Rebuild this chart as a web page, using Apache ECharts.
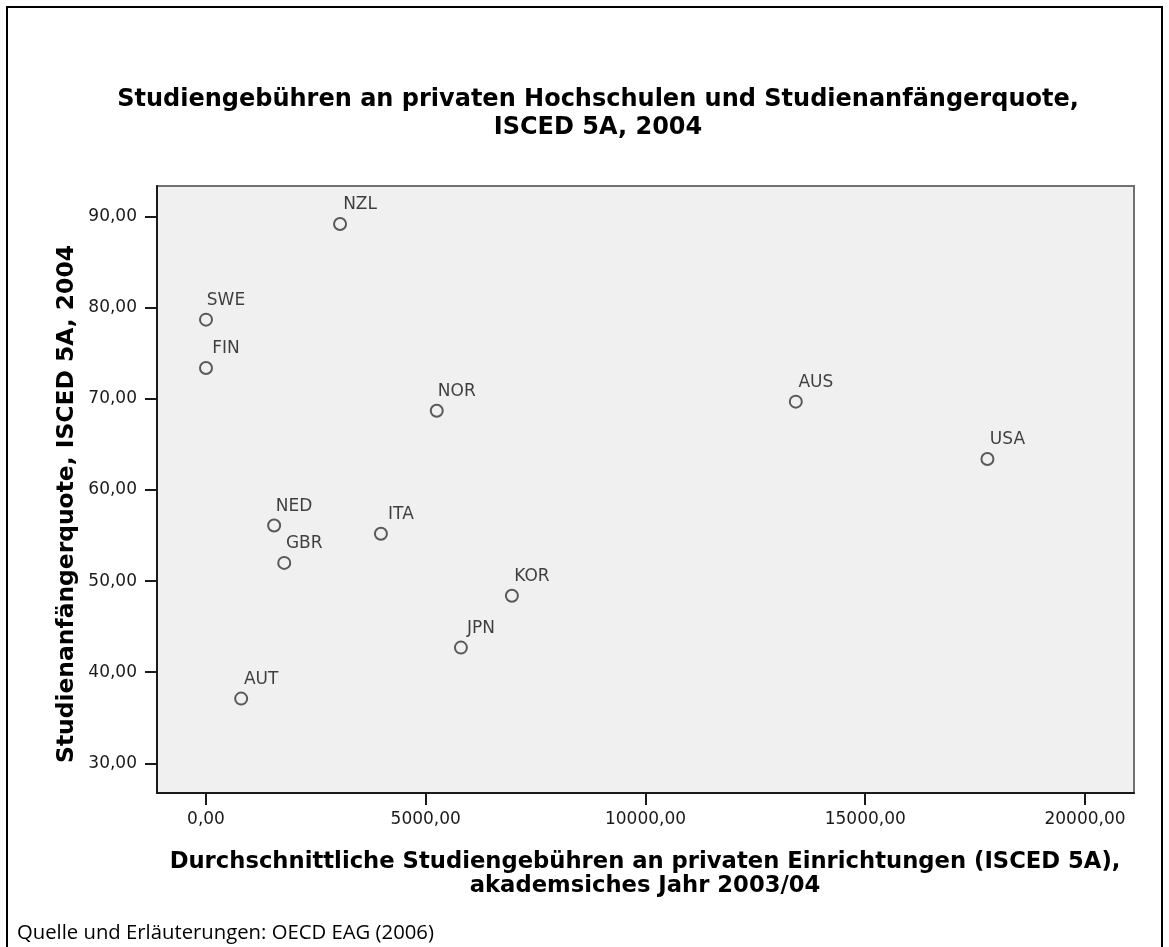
<!DOCTYPE html>
<html>
<head>
<meta charset="utf-8">
<script src="https://cdn.jsdelivr.net/npm/echarts@6/dist/echarts.min.js"></script>
<style>
html,body{margin:0;padding:0;background:#fff;}
#c{width:1169px;height:947px;}
</style>
</head>
<body>
<div id="c"></div>
<script>
const countries = ['NZL','SWE','FIN','NOR','AUS','USA','NED','ITA','GBR','KOR','JPN','AUT'];
const fees = [3050, 0, 0, 5250, 13420, 17780, 1550, 3980, 1780, 6960, 5800, 800];
const rates = [89.2, 78.7, 73.4, 68.7, 69.7, 63.4, 56.1, 55.2, 52.0, 48.4, 42.7, 37.1];
const xTicks = [0, 5000, 10000, 15000, 20000];
const yTicks = [30, 40, 50, 60, 70, 80, 90];

const titleLines = ['Studiengebühren an privaten Hochschulen und Studienanfängerquote,', 'ISCED 5A, 2004'];
const xTitleLines = ['Durchschnittliche Studiengebühren an privaten Einrichtungen (ISCED 5A),', 'akademsiches Jahr 2003/04'];
const yTitle = 'Studienanfängerquote, ISCED 5A, 2004';
const source = 'Quelle und Erläuterungen: OECD EAG (2006)';

const fmt = v => v.toFixed(2).replace('.', ',');
const FONT = '"DejaVu Sans", sans-serif';
const SRC_FONT = '"Open Sans", "Noto Sans", sans-serif';

// size a font so that a text line spans a target width
const ctx = document.createElement('canvas').getContext('2d');
function fitSize(text, weight, family, target) {
  ctx.font = weight + ' 100px ' + family;
  return Math.round(100 * target / ctx.measureText(text).width * 10) / 10;
}
const titleSize = fitSize(titleLines[0], 'bold', FONT, 963);
const xTitleSize = fitSize(xTitleLines[0], 'bold', FONT, 950);
const yTitleSize = fitSize(yTitle, 'bold', FONT, 518);
const srcSize = fitSize(source, 'normal', SRC_FONT, 418);

const chart = echarts.init(document.getElementById('c'), null, {renderer: 'canvas'});
chart.setOption({
  animation: false,
  backgroundColor: '#ffffff',
  grid: {left: 157, top: 186, right: 35, bottom: 154, show: true, backgroundColor: '#f0f0f0', borderColor: '#707070', borderWidth: 2},
  xAxis: {
    type: 'value', min: -1115, max: 21115,
    axisLine: {show: true, onZero: false, lineStyle: {color: '#1a1a1a', width: 2}},
    axisTick: {show: true, length: 12, inside: false, customValues: xTicks, lineStyle: {color: '#1a1a1a', width: 2}},
    axisLabel: {customValues: xTicks, formatter: fmt, margin: 18, color: '#1a1a1a', fontFamily: FONT, fontSize: 17},
    splitLine: {show: false}
  },
  yAxis: {
    type: 'value', min: 26.74, max: 93.37,
    axisLine: {show: true, onZero: false, lineStyle: {color: '#1a1a1a', width: 2}},
    axisTick: {show: true, length: 12, customValues: yTicks, lineStyle: {color: '#1a1a1a', width: 2}},
    axisLabel: {customValues: yTicks, formatter: fmt, margin: 20, color: '#1a1a1a', fontFamily: FONT, fontSize: 17},
    splitLine: {show: false}
  },
  series: [{
    type: 'scatter',
    data: countries.map((c, i) => ({name: c, value: [fees[i], rates[i]]})),
    symbol: 'circle',
    symbolSize: 12,
    itemStyle: {color: 'rgba(0,0,0,0)', borderColor: '#333', borderWidth: 2},
    label: {
      show: true, formatter: p => p.name,
      position: [27, -12], align: 'center', verticalAlign: 'middle',
      fontFamily: FONT, fontSize: 17, color: '#111'
    }
  }],
  graphic: [
    {type: 'polyline', shape: {points: [[7, 960], [7, 7], [1162, 7], [1162, 960]]}, style: {fill: null, stroke: '#000', lineWidth: 2}, z: -1},
    {type: 'text', x: 598, y: 100, style: {text: titleLines[0], font: 'bold ' + titleSize + 'px ' + FONT, fill: '#000', textAlign: 'center', textVerticalAlign: 'middle'}},
    {type: 'text', x: 598, y: 128, style: {text: titleLines[1], font: 'bold ' + titleSize + 'px ' + FONT, fill: '#000', textAlign: 'center', textVerticalAlign: 'middle'}},
    {type: 'text', x: 645, y: 862, style: {text: xTitleLines[0], font: 'bold ' + xTitleSize + 'px ' + FONT, fill: '#000', textAlign: 'center', textVerticalAlign: 'middle'}},
    {type: 'text', x: 645, y: 886, style: {text: xTitleLines[1], font: 'bold ' + xTitleSize + 'px ' + FONT, fill: '#000', textAlign: 'center', textVerticalAlign: 'middle'}},
    {type: 'text', x: 67, y: 504, rotation: Math.PI / 2, style: {text: yTitle, font: 'bold ' + yTitleSize + 'px ' + FONT, fill: '#000', textAlign: 'center', textVerticalAlign: 'middle'}},
    {type: 'text', x: 17, y: 933, style: {text: source, font: srcSize + 'px ' + SRC_FONT, fill: '#000', textVerticalAlign: 'middle'}}
  ]
});
</script>
</body>
</html>
